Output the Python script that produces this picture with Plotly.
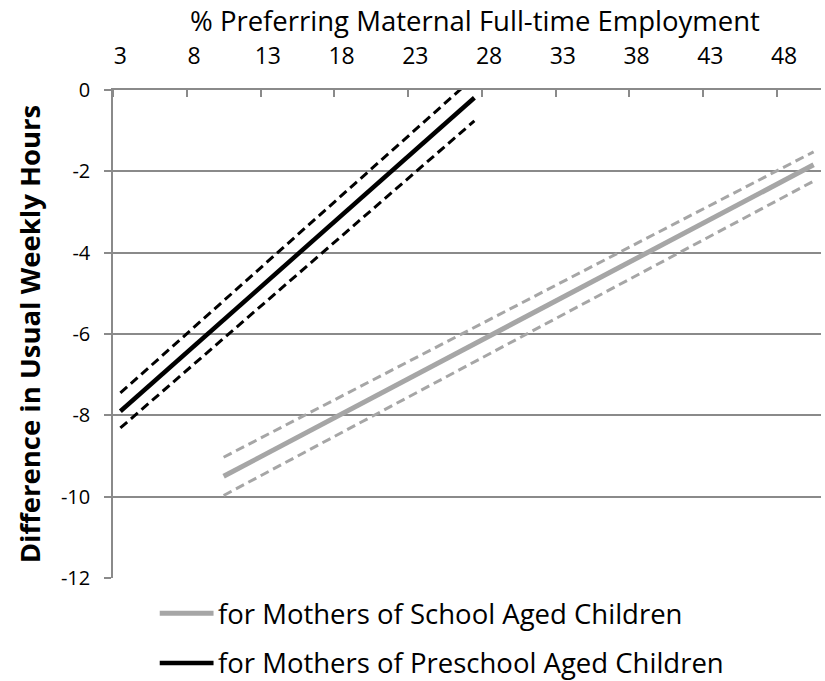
import plotly.graph_objects as go

# Data
x_labels = [3, 8, 13, 18, 23, 28, 33, 38, 43, 48]
y_ticks = [0, -2, -4, -6, -8, -10, -12]
x_title = "% Preferring Maternal Full-time Employment"
y_title = "Difference in Usual Weekly Hours"

school_name = "for Mothers of School Aged Children"
school_x = [10, 50]
school_est = [-9.50, -1.84]
school_upper = [-9.03, -1.52]
school_lower = [-9.97, -2.24]

preschool_name = "for Mothers of Preschool Aged Children"
preschool_x = [3, 27]
preschool_est = [-7.90, -0.19]
preschool_upper = [-7.45, 0.32]
preschool_lower = [-8.31, -0.76]

GRAY = "#a6a6a6"
BLACK = "#000000"
GRID = "#8a8a8a"
FONT = "Open Sans"
DASH = "9px,5px"

fig = go.Figure()

for xs, ys, col in [(school_x, school_upper, GRAY), (school_x, school_lower, GRAY),
                    (preschool_x, preschool_upper, BLACK), (preschool_x, preschool_lower, BLACK)]:
    fig.add_trace(go.Scatter(x=xs, y=ys, mode="lines",
                             line=dict(color=col, width=3, dash=DASH),
                             showlegend=False, hoverinfo="skip"))

fig.add_trace(go.Scatter(x=school_x, y=school_est, mode="lines", name=school_name,
                         line=dict(color=GRAY, width=5), showlegend=False))
fig.add_trace(go.Scatter(x=preschool_x, y=preschool_est, mode="lines", name=preschool_name,
                         line=dict(color=BLACK, width=4.5), showlegend=False))

# Legend drawn below the plot (line sample + text), in paper coordinates
legend_items = [(school_name, GRAY, 5, -0.072), (preschool_name, BLACK, 4.5, -0.174)]
for name, col, w, yy in legend_items:
    fig.add_shape(type="line", xref="paper", yref="paper",
                  x0=0.066, x1=0.142, y0=yy, y1=yy,
                  line=dict(color=col, width=w))
    fig.add_annotation(xref="paper", yref="paper", x=0.145, y=yy,
                       xanchor="left", yanchor="middle", showarrow=False,
                       text=name, font=dict(size=27.5, family=FONT, color="black"))

# top axis title
fig.add_annotation(xref="paper", yref="paper", x=0.511, y=1.142,
                   xanchor="center", yanchor="middle", showarrow=False,
                   text=x_title, font=dict(size=27.5, family=FONT, color="black"))

fig.update_layout(
    width=825, height=681,
    margin=dict(l=113, r=4, t=90, b=103),
    plot_bgcolor="white", paper_bgcolor="white",
    font=dict(family=FONT, size=19, color="black"),
    showlegend=False,
)

fig.update_xaxes(
    range=[2.5, 50.5], side="top", automargin=False,
    tickmode="array", tickvals=x_labels, ticktext=[str(v) for v in x_labels],
    ticks="", showgrid=False, zeroline=False,
    showline=True, linecolor=GRID, linewidth=1.5,
    tickfont=dict(size=23),
    ticklabelstandoff=15,
    minor=dict(tickvals=[v - 0.5 for v in x_labels], ticks="inside",
               ticklen=7, tickcolor=GRID, tickwidth=1.5, showgrid=False),
)

fig.update_yaxes(
    range=[-12, 0], automargin=False,
    tickmode="array", tickvals=y_ticks, ticktext=[str(v) for v in y_ticks],
    ticks="outside", ticklen=7, tickcolor=GRID, tickwidth=1.5,
    showgrid=True, gridcolor=GRID, gridwidth=1.5,
    zeroline=False, showline=True, linecolor=GRID, linewidth=1.5,
    tickfont=dict(size=20), ticklabelstandoff=10,
    title=dict(text="<b>" + y_title + "</b>",
               font=dict(size=27.5), standoff=12),
)

# remove the page's default 8px body margin so the figure fills the window
fig.write_html("out.html",
               config={"displayModeBar": False},
               post_script="document.body.style.margin='0px';document.body.style.overflow='hidden';")
